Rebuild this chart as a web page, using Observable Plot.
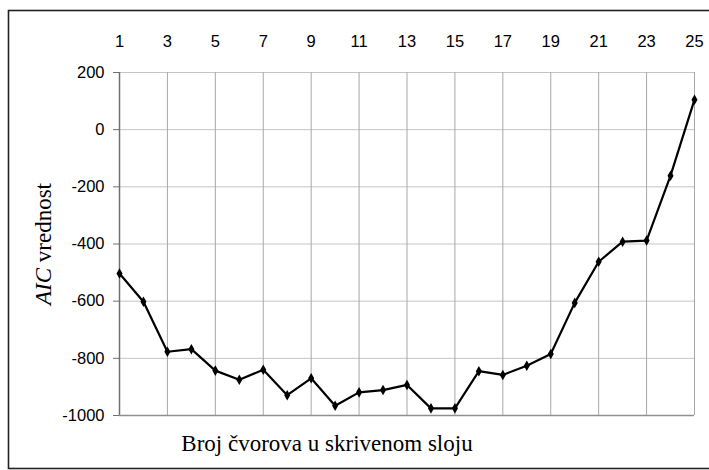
<!DOCTYPE html>
<html>
<head>
<meta charset="utf-8">
<script src="https://cdn.jsdelivr.net/npm/d3@7"></script>
<script src="https://cdn.jsdelivr.net/npm/@observablehq/plot@0.6"></script>
<style>
  html, body { margin: 0; padding: 0; background: #fff; }
  #chart svg { display: block; }
</style>
</head>
<body>
<div id="chart"></div>
<script>
const nodes = [1,2,3,4,5,6,7,8,9,10,11,12,13,14,15,16,17,18,19,20,21,22,23,24,25];
const aic = [-503,-602,-777,-768,-843,-875,-840,-929,-870,-966,-919,-911,-893,-975,-975,-845,-858,-826,-785,-606,-462,-392,-388,-161,105];
const xTicks = [1,3,5,7,9,11,13,15,17,19,21,23,25];
const yTicks = [-1000,-800,-600,-400,-200,0,200];
const xTitle = "Broj čvorova u skrivenom sloju";
const yTitleItalic = "AIC";
const yTitleRest = " vrednost";

const data = nodes.map((n, i) => ({n, v: aic[i]}));

const chart = Plot.plot({
  width: 709,
  height: 470,
  marginLeft: 119,
  marginRight: 15,
  marginTop: 72,
  marginBottom: 55,
  style: {fontFamily: "Liberation Sans, Arial, sans-serif", fontSize: "16.5px", color: "#000", background: "#fff"},
  x: {domain: [1, 25], ticks: xTicks, label: null},
  y: {domain: [-1000, 200], ticks: yTicks, label: null},
  marks: [
    Plot.ruleY(yTicks, {stroke: "#c4c4c4", strokeWidth: 1, strokeOpacity: 1}),
    Plot.ruleX(xTicks, {stroke: "#a8a8a8", strokeWidth: 1, strokeOpacity: 1}),
    Plot.ruleX([1], {stroke: "#707070", strokeWidth: 1.5}),
    Plot.ruleY([-1000], {stroke: "#909090", strokeWidth: 1.5}),
    Plot.axisX({anchor: "top", ticks: xTicks, tickSize: 0, tickPadding: 26, label: null}),
    Plot.axisY({anchor: "left", ticks: yTicks, tickSize: 6, tickPadding: 9, label: null, tickFormat: d => String(d), stroke: "#707070"}),
    Plot.line(data, {x: "n", y: "v", stroke: "#000", strokeWidth: 2.2}),
    Plot.dot(data, {x: "n", y: "v", symbol: "diamond", r: 3.2, fill: "#000", stroke: "none"})
  ]
});

const svg = d3.select(chart);
svg.selectAll('g[aria-label$="tick label"]').attr("fill", "#000");

svg.append("rect")
  .attr("x", 8.5).attr("y", 10.5).attr("width", 760).attr("height", 458)
  .attr("fill", "none").attr("stroke", "#222").attr("stroke-width", 1.6);

svg.append("text")
  .attr("x", 327).attr("y", 451)
  .attr("text-anchor", "middle")
  .attr("font-family", "Liberation Serif, Times New Roman, serif")
  .attr("font-size", 23)
  .attr("fill", "#000")
  .text(xTitle);

const yt = svg.append("text")
  .attr("transform", "translate(51,244) rotate(-90)")
  .attr("text-anchor", "middle")
  .attr("font-family", "Liberation Serif, Times New Roman, serif")
  .attr("font-size", 23)
  .attr("fill", "#000");
yt.append("tspan").attr("font-style", "italic").text(yTitleItalic);
yt.append("tspan").text(yTitleRest);

document.getElementById("chart").appendChild(chart);
</script>
</body>
</html>
